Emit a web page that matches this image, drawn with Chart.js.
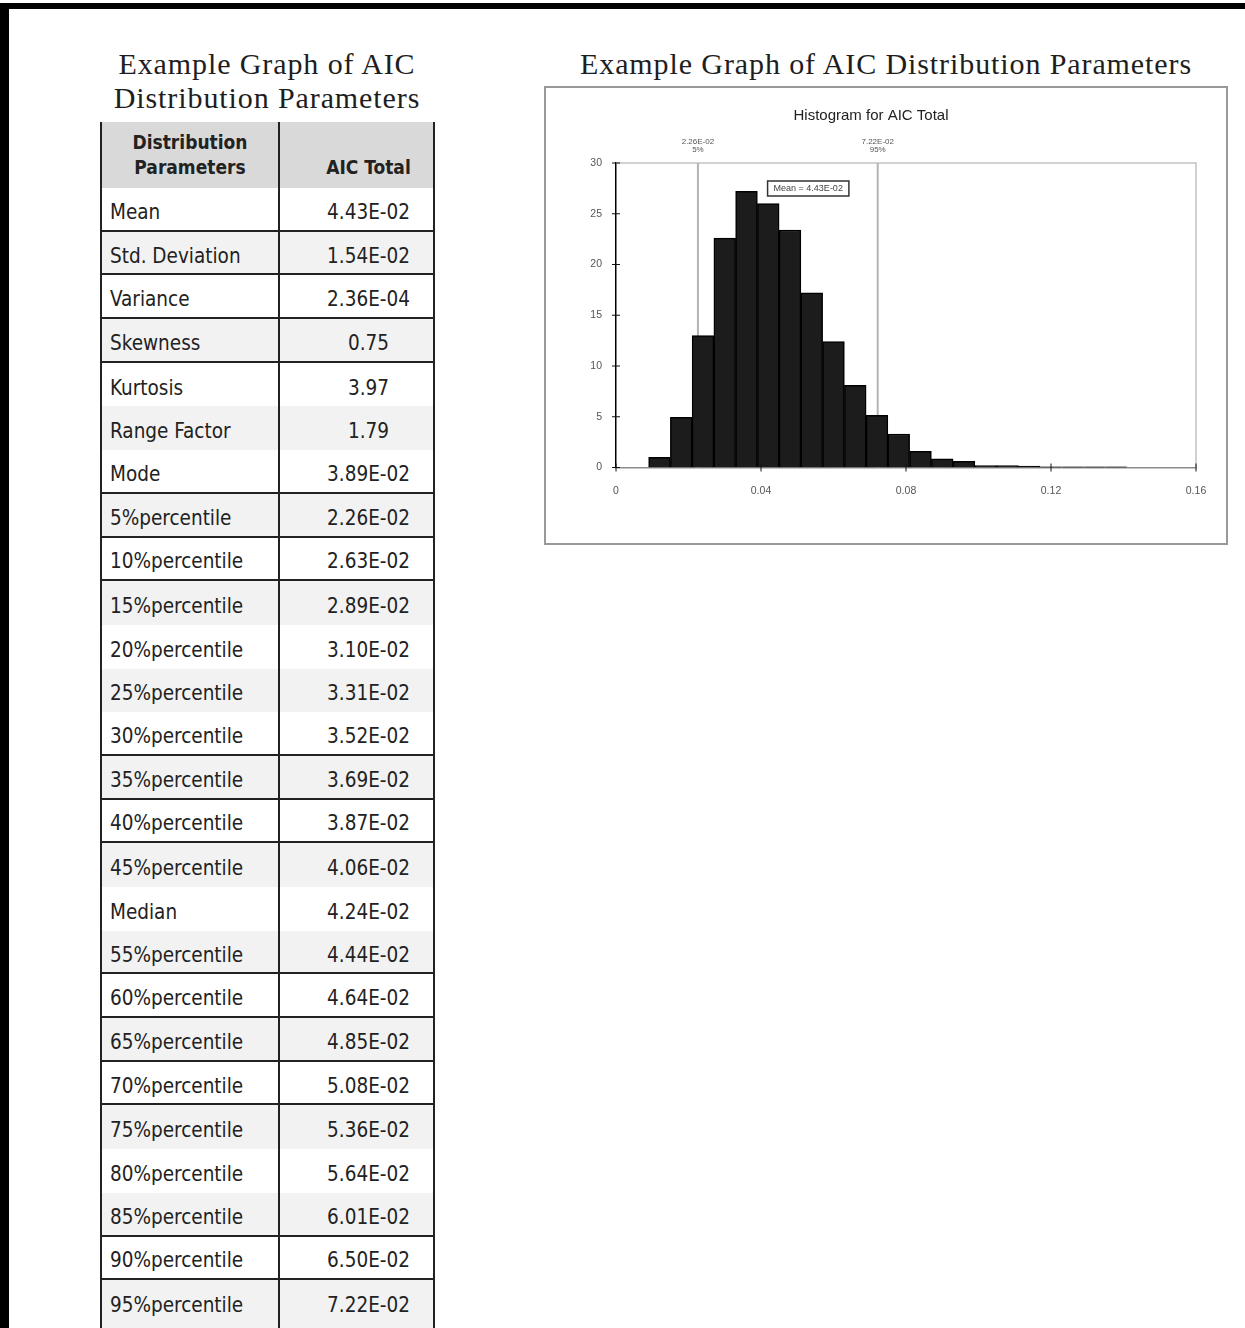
<!DOCTYPE html>
<html>
<head>
<meta charset="utf-8">
<title>Example Graph of AIC Distribution Parameters</title>
<script src="https://cdn.jsdelivr.net/npm/chart.js@4.4.1/dist/chart.umd.min.js"></script>
<style>
    html, body { margin: 0; padding: 0; background: #fff; }
    body { width: 1245px; height: 1328px; overflow: hidden; position: relative; }
    .frame { position: absolute; left: 0; top: 3px; width: 1245px; height: 1325px; border-left: 9px solid #000; border-top: 6px solid #000; box-sizing: border-box; }
    .title { position: absolute; font-family: 'Liberation Serif', 'DejaVu Serif', serif; font-size: 30px; letter-spacing: 0.9px; line-height: 34px; color: #1e1e1e; text-align: center; white-space: nowrap; }
    #leftTitle { left: 87px; width: 360px; top: 47px; }
    #rightTitle { left: 544px; width: 684px; top: 47px; }
    #params { position: absolute; left: 100px; top: 122px; width: 335px; border-left: 2px solid #222; border-right: 2px solid #222; box-sizing: border-box; font-family: 'Liberation Sans Narrow', 'DejaVu Sans Condensed', sans-serif; color: #222; }
    .row { display: flex; height: 43.7px; box-sizing: border-box; }
    .row.ruled { border-bottom: 2px solid #222; }
    .row.shade { background: #f2f2f2; }
    .row:last-child { height: 50px; }
    .row.head { height: 66px; background: #d9d9d9; font-weight: bold; font-size: 19px; line-height: 25px; }
    .cell { box-sizing: border-box; display: flex; }
    .c1 { width: 178px; border-right: 2px solid #222; padding-left: 8px; }
    .c2 { flex: 1; justify-content: center; padding-left: 24px; }
    .head .cell { padding-bottom: 8px; align-items: flex-end; }
    .head .c1 { padding-left: 0; flex-direction: column; justify-content: flex-end; align-items: center; }
    .body-row { font-size: 20.5px; }
    .body-row .cell { align-items: center; padding-top: 6px; }
    .row:last-child .cell { align-items: flex-start; padding-top: 13px; }
    #chartBox { position: absolute; left: 544px; top: 86px; width: 684px; height: 459px; border: 2px solid #999; box-sizing: border-box; }
    #chartBox canvas { display: block; }
</style>
</head>
<body>
<div class="frame"></div>
<div class="title" id="leftTitle">Example Graph of AIC<br>Distribution Parameters</div>
<div class="title" id="rightTitle">Example Graph of AIC Distribution Parameters</div>
<div id="params"></div>
<div id="chartBox"><canvas id="histChart"></canvas></div>

<script>
// Statistiques du tableau
const paramNames = ['Mean', 'Std. Deviation', 'Variance', 'Skewness', 'Kurtosis', 'Range Factor', 'Mode',
    '5%percentile', '10%percentile', '15%percentile', '20%percentile', '25%percentile', '30%percentile',
    '35%percentile', '40%percentile', '45%percentile', 'Median', '55%percentile', '60%percentile',
    '65%percentile', '70%percentile', '75%percentile', '80%percentile', '85%percentile', '90%percentile',
    '95%percentile'];
const aicTotal = ['4.43E-02', '1.54E-02', '2.36E-04', '0.75', '3.97', '1.79', '3.89E-02',
    '2.26E-02', '2.63E-02', '2.89E-02', '3.10E-02', '3.31E-02', '3.52E-02',
    '3.69E-02', '3.87E-02', '4.06E-02', '4.24E-02', '4.44E-02', '4.64E-02',
    '4.85E-02', '5.08E-02', '5.36E-02', '5.64E-02', '6.01E-02', '6.50E-02',
    '7.22E-02'];

// Histogramme (centres des classes, hauteurs)
const binCenters = [0.012, 0.018, 0.024, 0.030, 0.036, 0.042, 0.048, 0.054, 0.060, 0.066, 0.072,
    0.078, 0.084, 0.090, 0.096, 0.102, 0.108, 0.114, 0.120, 0.126, 0.132, 0.138];
const binHeights = [1.0, 4.95, 13.0, 22.6, 27.2, 26.0, 23.4, 17.2, 12.4, 8.1, 5.15,
    3.3, 1.6, 0.85, 0.6, 0.2, 0.2, 0.15, 0.06, 0.06, 0.06, 0.06];
const xTicks = [0, 0.04, 0.08, 0.12, 0.16];
const yTicks = [0, 5, 10, 15, 20, 25, 30];
const markers = [
    { value: 0.0226, label: '2.26E-02', sub: '5%' },
    { value: 0.0722, label: '7.22E-02', sub: '95%' }
];
const meanValue = 0.0443;
const meanLabel = 'Mean = 4.43E-02';

// rows that get a rule under them in the original table
const ruledRows = [0, 1, 2, 3, 6, 7, 8, 12, 13, 14, 17, 18, 19, 20, 23, 24];

function buildTable() {
    const table = document.getElementById('params');
    let html = '<div class="row head"><div class="cell c1"><div>Distribution</div><div>Parameters</div></div>' +
        '<div class="cell c2">AIC Total</div></div>';
    paramNames.forEach((name, i) => {
        const cls = ['row', 'body-row'];
        if (i % 2 === 1) cls.push('shade');
        if (ruledRows.includes(i)) cls.push('ruled');
        html += `<div class="${cls.join(' ')}"><div class="cell c1">${name}</div><div class="cell c2">${aicTotal[i]}</div></div>`;
    });
    table.innerHTML = html;
}

// traits, bordure et annotations autour du tracé
const histExtras = {
    id: 'histExtras',
    beforeDatasetsDraw(chart) {
        const { ctx, chartArea: a, scales: { x } } = chart;
        ctx.save();
        ctx.strokeStyle = '#c4c4c4';
        ctx.lineWidth = 1.5;
        ctx.beginPath();
        ctx.moveTo(a.left, a.top);
        ctx.lineTo(a.right, a.top);
        ctx.lineTo(a.right, a.bottom);
        ctx.stroke();
        ctx.strokeStyle = '#b4b4b4';
        ctx.lineWidth = 2;
        markers.forEach(m => {
            const px = x.getPixelForValue(m.value);
            ctx.beginPath();
            ctx.moveTo(px, a.top);
            ctx.lineTo(px, a.bottom);
            ctx.stroke();
        });
        ctx.restore();
    },
    afterDraw(chart) {
        const { ctx, chartArea: a, scales: { x, y } } = chart;
        ctx.save();
        // ticks crossing the axes
        ctx.strokeStyle = '#111';
        ctx.lineWidth = 1;
        yTicks.forEach(v => {
            const py = y.getPixelForValue(v);
            ctx.beginPath();
            ctx.moveTo(a.left - 4, py);
            ctx.lineTo(a.left + 4, py);
            ctx.stroke();
        });
        xTicks.forEach(v => {
            const px = x.getPixelForValue(v);
            ctx.beginPath();
            ctx.moveTo(px, a.bottom - 4);
            ctx.lineTo(px, a.bottom + 4);
            ctx.stroke();
        });
        // percentile labels
        ctx.fillStyle = '#555';
        ctx.font = '8px "Liberation Sans", sans-serif';
        ctx.textAlign = 'center';
        ctx.textBaseline = 'middle';
        markers.forEach(m => {
            const px = x.getPixelForValue(m.value);
            ctx.fillText(m.label, px, a.top - 21);
            ctx.fillText(m.sub, px, a.top - 13);
        });
        // mean box
        ctx.font = '9px "Liberation Sans", sans-serif';
        const w = ctx.measureText(meanLabel).width + 12;
        const left = x.getPixelForValue(meanValue) - 9;
        const top = a.top + 18;
        ctx.fillStyle = '#fff';
        ctx.fillRect(left, top, w, 15);
        ctx.strokeStyle = '#333';
        ctx.lineWidth = 1.5;
        ctx.strokeRect(left, top, w, 15);
        ctx.fillStyle = '#444';
        ctx.textAlign = 'left';
        ctx.fillText(meanLabel, left + 6, top + 8);
        ctx.restore();
    }
};

document.addEventListener('DOMContentLoaded', function() {
    buildTable();

    Chart.defaults.font.family = '"Liberation Sans", Arial, sans-serif';
    const ctx = document.getElementById('histChart').getContext('2d');

    new Chart(ctx, {
        type: 'bar',
        data: {
            datasets: [{
                data: binCenters.map((c, i) => ({ x: c, y: binHeights[i] })),
                backgroundColor: '#1c1c1c',
                borderColor: '#000',
                borderWidth: 1.5,
                barPercentage: 1,
                categoryPercentage: 1
            }]
        },
        options: {
            responsive: true,
            maintainAspectRatio: false,
            animation: false,
            layout: { padding: { left: 0, right: 30, top: 0, bottom: 0 } },
            plugins: {
                legend: { display: false },
                tooltip: { enabled: false },
                title: {
                    display: true,
                    text: 'Histogram for AIC Total',
                    color: '#222',
                    font: { size: 15, weight: 'normal' },
                    padding: { top: 19, bottom: 38 }
                }
            },
            scales: {
                x: {
                    type: 'linear',
                    min: 0,
                    max: 0.16,
                    offset: false,
                    afterBuildTicks: s => { s.ticks = xTicks.map(v => ({ value: v })); },
                    afterFit: s => { s.height = 75.5; },
                    ticks: { padding: 17, color: '#555', font: { size: 10.5 }, maxRotation: 0, callback: v => String(v) },
                    grid: { display: false, drawTicks: false },
                    border: { color: '#8c8c8c', width: 1.5 }
                },
                y: {
                    min: 0,
                    max: 30,
                    afterBuildTicks: s => { s.ticks = yTicks.map(v => ({ value: v })); },
                    afterFit: s => { s.width = 70; },
                    ticks: { padding: 14, color: '#555', font: { size: 10.5 } },
                    grid: { display: false, drawTicks: false },
                    border: { color: '#000', width: 1.5 }
                }
            }
        },
        plugins: [histExtras]
    });
});
</script>
</body>
</html>
